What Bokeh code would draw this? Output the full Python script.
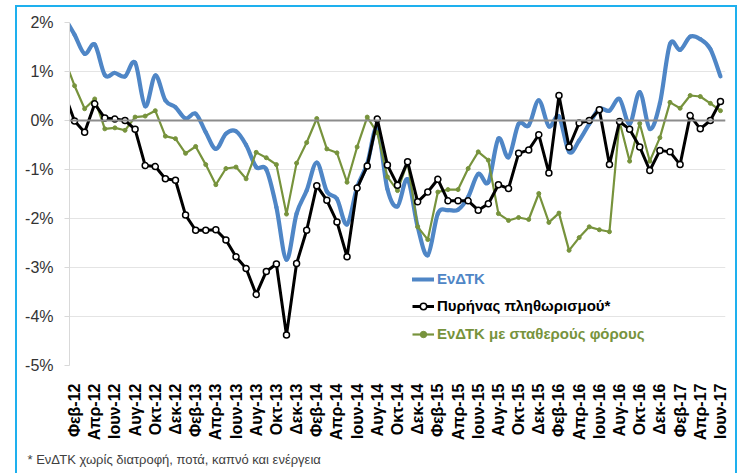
import math
from bokeh.plotting import figure
from bokeh.models import (ColumnDataSource, FixedTicker, PrintfTickFormatter, Span,
                          Legend, LegendItem, Title, InlineStyleSheet)
from bokeh.embed import file_html
from bokeh.resources import INLINE

# ---------------- data ----------------
month_abbr = ["Ιαν", "Φεβ", "Μαρ", "Απρ", "Μαϊ", "Ιουν", "Ιουλ", "Αυγ", "Σεπ", "Οκτ", "Νοε", "Δεκ"]
years = ["12", "13", "14", "15", "16", "17"]
months = [f"{m}-{y}" for y in years for m in month_abbr][:66]   # Ιαν-12 ... Ιουν-17

evdtk = [2.10, 1.75, 1.36, 1.55, 0.93, 0.97, 0.90, 1.18, 0.29, 0.92, 0.41,
         0.27, 0.04, 0.14, -0.24, -0.58, -0.27, -0.22, -0.50, -0.95, -1.00,
         -1.77, -2.84, -1.90, -1.43, -0.86, -1.45, -1.60, -2.12, -1.36, -0.88,
         -0.15, -1.40, -1.75, -1.20, -2.17, -2.75, -1.90, -1.83, -1.82, -1.56,
         -1.09, -1.26, -0.37, -0.75, -0.07, -0.10, 0.41, -0.12, 0.08, -0.64,
         -0.41, -0.07, 0.24, 0.20, 0.44, -0.07, 0.58, -0.17, 0.35, 1.56,
         1.44, 1.71, 1.66, 1.46, 0.90]

core = [0.55, -0.01, -0.24, 0.34, 0.05, 0.03, 0.00, -0.18, -0.92, -0.94, -1.19,
        -1.22, -1.93, -2.24, -2.24, -2.23, -2.44, -2.78, -3.02, -3.55, -3.08,
        -2.93, -4.38, -2.92, -2.24, -1.33, -1.63, -2.07, -2.78, -1.38, -0.93,
        0.03, -0.91, -1.32, -0.84, -1.66, -1.46, -1.20, -1.64, -1.64, -1.64,
        -1.83, -1.70, -1.31, -1.39, -0.67, -0.60, -0.29, -1.07, 0.51, -0.54,
        -0.05, 0.00, 0.22, -0.90, -0.02, -0.18, -0.54, -1.02, -0.61, -0.64,
        -0.90, 0.10, -0.17, 0.00, 0.39]

const_tax = [1.25, 0.71, 0.24, 0.44, -0.17, -0.15, -0.20, 0.07, 0.09, 0.20, -0.32,
             -0.37, -0.67, -0.53, -0.90, -1.31, -0.98, -0.95, -1.19, -0.65, -0.76,
             -0.90, -1.91, -0.87, -0.45, 0.04, -0.58, -0.66, -1.26, -0.54, 0.07,
             -0.25, -1.15, -1.43, -0.85, -2.17, -2.43, -1.46, -1.41, -1.41, -0.98,
             -0.64, -0.81, -1.90, -2.04, -1.98, -2.02, -1.49, -2.08, -1.89, -2.65,
             -2.39, -2.17, -2.23, -2.27, -0.02, -0.83, -0.06, -0.83, -0.35, 0.37,
             0.25, 0.51, 0.49, 0.35, 0.20]

series_labels = ["ΕνΔΤΚ", "Πυρήνας πληθωρισμού*", "ΕνΔΤΚ με σταθερούς φόρους"]
footnote = "* ΕνΔΤΚ χωρίς διατροφή, ποτά, καπνό και ενέργεια"
y_ticks = [-5, -4, -3, -2, -1, 0, 1, 2]

# ---------------- styling ----------------
BLUE = "#4F86C6"
BLACK = "#000000"
GREEN = "#77933C"
CYAN = "#1EB0EE"
FONT = "Liberation Sans"
W, H = 741, 473

x = list(range(len(months)))
tick_idx = x[1::2]

p = figure(width=W, height=H, x_range=(0.5, len(months) - 0.5), y_range=(-5, 2),
           output_backend="svg", toolbar_location=None,
           min_border_left=69, min_border_right=W - 725, min_border_top=22,
           min_border_bottom=H - 365,
           background_fill_color="white", border_fill_alpha=0, outline_line_color=None)

# outer cyan frame of the picture (left, top and right edges) painted behind the
# transparent canvas border area
grad = f"linear-gradient({CYAN},{CYAN})"
frame_bg = (f"{grad} 15px 5px / 2px 700px no-repeat, "
            f"{grad} 735px 5px / 2px 700px no-repeat, "
            f"{grad} 15px 5px / 722px 2px no-repeat, white")
p.styles = {"background": frame_bg}
p.stylesheets = [InlineStyleSheet(css=":host { background: " + frame_bg + " !important; }")]

# axes
p.xaxis.ticker = FixedTicker(ticks=tick_idx)
p.xaxis.major_label_overrides = {i: months[i] for i in tick_idx}
p.xaxis.major_label_orientation = math.pi / 2
p.xaxis.major_label_text_font = FONT
p.xaxis.major_label_text_font_style = "bold"
p.xaxis.major_label_text_font_size = "16px"
p.xaxis.major_label_text_color = "#000000"
p.xaxis.major_label_standoff = 12
p.xaxis.axis_line_color = None
p.xaxis.major_tick_line_color = None
p.xaxis.minor_tick_line_color = None

p.yaxis.ticker = FixedTicker(ticks=y_ticks)
p.yaxis.formatter = PrintfTickFormatter(format="%d%%")
p.yaxis.major_label_text_font = FONT
p.yaxis.major_label_text_font_size = "16px"
p.yaxis.major_label_text_color = "#333333"
p.yaxis.axis_line_color = "#D9D9D9"
p.yaxis.major_tick_line_color = "#D9D9D9"
p.yaxis.major_tick_out = 5
p.yaxis.major_tick_in = 0
p.yaxis.minor_tick_line_color = None
p.yaxis.major_label_standoff = 11

p.xgrid.grid_line_color = None
p.ygrid.grid_line_color = "#E4E4E4"
p.ygrid.grid_line_width = 1

p.add_layout(Span(location=0, dimension="width", line_color="#8C8C8C", line_width=1.8))

# ---------------- series ----------------
# smoothed blue line built with cubic bezier segments (Catmull-Rom style control points)
n = len(x)
x0, y0, x1, y1, cx0, cy0, cx1, cy1 = [], [], [], [], [], [], [], []
for k in range(n - 1):
    km = max(k - 1, 0)
    kp = min(k + 2, n - 1)
    x0.append(x[k]); y0.append(evdtk[k])
    x1.append(x[k + 1]); y1.append(evdtk[k + 1])
    cx0.append(x[k] + (x[k + 1] - x[km]) / 6.0)
    cy0.append(evdtk[k] + (evdtk[k + 1] - evdtk[km]) / 6.0)
    cx1.append(x[k + 1] - (x[kp] - x[k]) / 6.0)
    cy1.append(evdtk[k + 1] - (evdtk[kp] - evdtk[k]) / 6.0)
bez_src = ColumnDataSource(dict(x0=x0, y0=y0, x1=x1, y1=y1, cx0=cx0, cy0=cy0, cx1=cx1, cy1=cy1))
blue_r = p.bezier(x0="x0", y0="y0", x1="x1", y1="y1", cx0="cx0", cy0="cy0", cx1="cx1", cy1="cy1",
                  source=bez_src, line_color=BLUE, line_width=4.2, line_cap="round")

src = ColumnDataSource(dict(x=x, core=core, const_tax=const_tax))
green_l = p.line("x", "const_tax", source=src, line_color=GREEN, line_width=2.2)
green_m = p.scatter("x", "const_tax", source=src, marker="circle", size=4,
                    fill_color=GREEN, line_color=GREEN)
black_l = p.line("x", "core", source=src, line_color=BLACK, line_width=3)
black_m = p.scatter("x", "core", source=src, marker="circle", size=6,
                    fill_color="white", line_color=BLACK, line_width=1.5)

# ---------------- legends ----------------
def make_legend(label, renderers, color, loc):
    lg = Legend(items=[LegendItem(label=label, renderers=renderers)], location=loc,
                background_fill_alpha=0, border_line_alpha=0, padding=0, margin=0,
                spacing=0, glyph_width=22, glyph_height=16, label_height=16,
                label_standoff=3, label_text_font=FONT, label_text_font_style="bold",
                label_text_font_size="15px", label_text_color=color)
    p.add_layout(lg, "center")

make_legend(series_labels[0], [blue_r], BLUE, (343, 78))
make_legend(series_labels[1], [black_l, black_m], BLACK, (343, 51))
make_legend(series_labels[2], [green_l, green_m], GREEN, (343, 23))

p.add_layout(Title(text=footnote, align="left", offset=-42, standoff=13, text_font=FONT,
                   text_font_size="13px", text_font_style="normal", text_color="#404040"),
             "below")

open("out.html", "w").write(file_html(p, INLINE))
